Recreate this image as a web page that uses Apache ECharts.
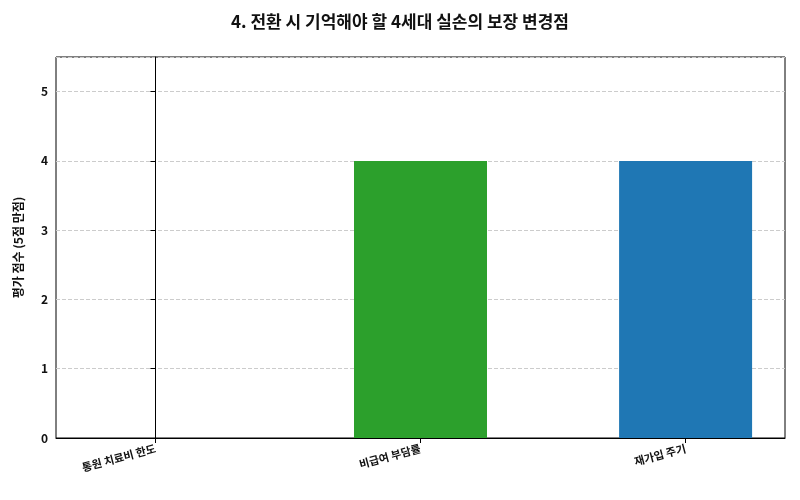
<!DOCTYPE html><html><head><meta charset="utf-8"><script src="https://cdn.jsdelivr.net/npm/echarts@6/dist/echarts.min.js"></script></head><body style="margin:0"><div id="c" style="width:800px;height:500px"></div><script>
const categories=['통원 치료비 한도','비급여 부담률','재가입 주기'];
const values=[0,4,4];
const colors=['#d62728','#2ca02c','#1f77b4'];
const c=echarts.init(document.getElementById('c'));
const F='"Noto Sans CJK KR", sans-serif';
c.setOption({animation:false,
title:{text:'4. 전환 시 기억해야 할 4세대 실손의 보장 변경점',left:'center',top:8,textStyle:{fontFamily:F,fontSize:17,fontWeight:'bold',color:'#111'}},
grid:{left:56,right:15,top:57,bottom:62,show:true,borderColor:'#000',borderWidth:1},
xAxis:{type:'value',min:-0.375,max:2.375,splitLine:{show:false},axisLine:{lineStyle:{color:'#000'}},
axisTick:{show:true,customValues:[0,1,2]},
axisLabel:{customValues:[0,1,2],formatter:v=>categories[Math.round(v)],rotate:15,color:'#111',fontFamily:F,fontSize:11,fontWeight:'bold',margin:10}},
yAxis:{type:'value',min:0,max:5.5,interval:1,name:'평가 점수 (5점 만점)',nameLocation:'middle',nameGap:32,nameTextStyle:{fontFamily:F,fontSize:12,fontWeight:'bold',color:'#111'},
axisLine:{show:true,lineStyle:{color:'#000'}},axisTick:{show:true},axisLabel:{color:'#111',fontFamily:F,fontSize:12,fontWeight:'bold',showMaxLabel:false},splitLine:{lineStyle:{type:'dashed',color:'#ccc'}}},
series:[{type:'bar',barWidth:133,data:values.map((v,i)=>({value:[i,v],itemStyle:{color:colors[i]}}))}]});
</script></body></html>
